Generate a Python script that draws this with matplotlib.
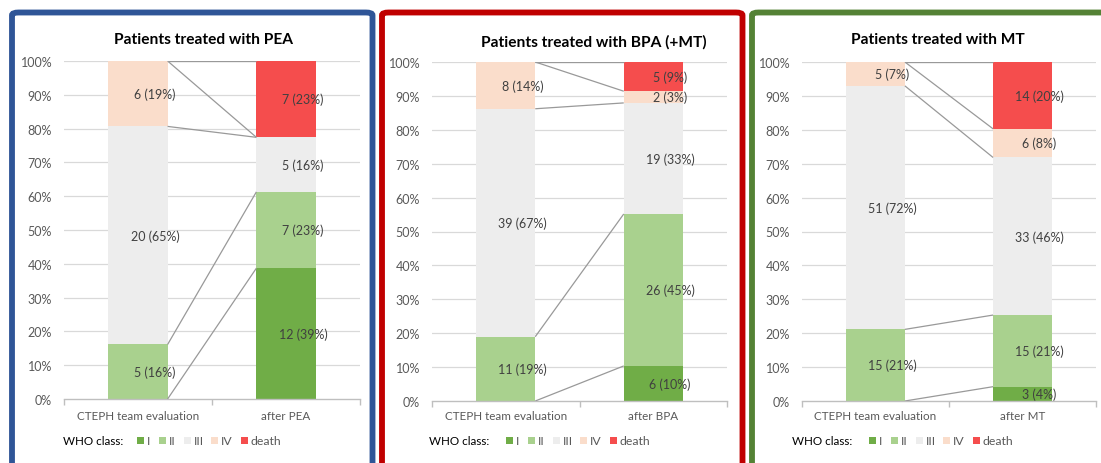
import matplotlib
matplotlib.use("Agg")
import matplotlib.pyplot as plt
from matplotlib.patches import FancyBboxPatch, Rectangle
from matplotlib.transforms import blended_transform_factory
import numpy as np

W, H = 1101, 464

classes = ["I", "II", "III", "IV", "death"]
colors = ["#70AD47", "#A9D18E", "#EDEDED", "#FADDCB", "#F54D4D"]

titles = ["Patients treated with PEA", "Patients treated with BPA (+MT)", "Patients treated with MT"]
categories = [["CTEPH team evaluation", "after PEA"],
              ["CTEPH team evaluation", "after BPA"],
              ["CTEPH team evaluation", "after MT"]]

# counts per class [I, II, III, IV, death]
pea_before = [0, 5, 20, 6, 0]
pea_after = [12, 7, 5, 0, 7]
bpa_before = [0, 11, 39, 8, 0]
bpa_after = [6, 26, 19, 2, 5]
mt_before = [0, 15, 51, 5, 0]
mt_after = [3, 15, 33, 6, 14]

# percentage labels as printed
pea_before_pct = [0, 16, 65, 19, 0]
pea_after_pct = [39, 23, 16, 0, 23]
bpa_before_pct = [0, 19, 67, 14, 0]
bpa_after_pct = [10, 45, 33, 3, 9]
mt_before_pct = [0, 21, 72, 7, 0]
mt_after_pct = [4, 21, 46, 8, 20]

panels = [
    (pea_before, pea_after, pea_before_pct, pea_after_pct),
    (bpa_before, bpa_after, bpa_before_pct, bpa_after_pct),
    (mt_before, mt_after, mt_before_pct, mt_after_pct),
]

# layout in pixels
axes_px = [(64, 360, 62, 400), (432, 727, 63, 402), (802, 1096, 63, 402)]
frame_px = [(9.5, 375, "#2F5597"), (379.5, 745, "#C00000"), (749.5, 1110, "#548235")]
title_px = [(203, 40), (594, 42), (938, 40)]
legend_px = [(63, 137), (429, 506), (792, 869)]

fig = plt.figure(figsize=(W / 100, H / 100), dpi=100)
fig.patch.set_facecolor("white")

def fx(x):
    return x / W

def fy(y):
    return 1 - y / H

# panel frames
for (x0, x1, col) in frame_px:
    r = FancyBboxPatch((fx(x0 + 2.5), fy(470)), fx(x1 - x0 - 5), fy(11 + 2.5) - fy(470),
                       boxstyle="round,pad=0,rounding_size=0.006",
                       transform=fig.transFigure, facecolor="white",
                       edgecolor=col, linewidth=4.2, zorder=0)
    fig.add_artist(r)

font = "Lato"
txtcol = "#404040"
bw = 0.4

for i, (before, after, bpct, apct) in enumerate(panels):
    l, r, t, b = axes_px[i]
    ax = fig.add_axes([fx(l), fy(b), fx(r - l), fy(t) - fy(b)])
    ax.set_facecolor("none")
    ax.set_xlim(-0.5, 1.5)
    ax.set_ylim(0, 1)
    for s in ["top", "right", "left"]:
        ax.spines[s].set_visible(False)
    ax.spines["bottom"].set_color("#BFBFBF")
    ax.spines["bottom"].set_linewidth(1.0)
    ax.set_yticks(np.arange(0, 1.01, 0.1))
    ax.set_yticklabels([f"{int(round(v*100))}%" for v in np.arange(0, 1.01, 0.1)],
                       fontsize=9, color="#595959", fontfamily=font)
    ax.tick_params(axis="y", length=0, pad=8.5)
    ax.set_xticks([-0.5, 0.5, 1.5])
    ax.set_xticklabels([])
    ax.tick_params(axis="x", length=4, color="#BFBFBF", width=1.0, direction="out")
    for v in np.arange(0.1, 1.01, 0.1):
        ax.axhline(v, color="#D9D9D9", lw=0.9, zorder=0)

    data = [before, after]
    pcts = [bpct, apct]
    tops = []
    for j in range(2):
        tot = sum(data[j])
        bottom = 0.0
        col_tops = []
        for k in range(5):
            h = data[j][k] / tot
            if h > 0:
                ax.bar(j, h, bottom=bottom, width=bw, color=colors[k], zorder=2, linewidth=0)
                ax.text(j + 0.115, bottom + h / 2, f"{data[j][k]} ({pcts[j][k]}%)",
                        ha="center", va="center", fontsize=9, color=txtcol,
                        fontfamily=font, zorder=4)
            bottom += h
            col_tops.append(bottom)
        tops.append(col_tops)
    for k in range(5):
        ax.plot([bw / 2, 1 - bw / 2], [tops[0][k], tops[1][k]], color="#999999",
                lw=0.9, zorder=3, solid_capstyle="butt")

    trans = blended_transform_factory(ax.transData, fig.transFigure)
    for j in range(2):
        ax.text(j, fy(417), categories[i][j], transform=trans, ha="center", va="center",
                fontsize=8.4, color="#595959", fontfamily=font)

    tx, ty = title_px[i]
    fig.text(fx(tx), fy(ty), titles[i], ha="center", va="center", fontsize=11.2,
             fontweight="bold", color="black", fontfamily=font)

    # legend
    lx, sx = legend_px[i]
    ly = 441.5
    fig.text(fx(lx), fy(ly), "WHO class:", ha="left", va="center", fontsize=8.4,
             color="black", fontfamily=font)
    offs = [0, 22, 47, 74, 104]
    for k in range(5):
        x0 = sx + offs[k]
        fig.add_artist(Rectangle((fx(x0), fy(ly + 3.5)), fx(7), fy(ly - 3.5) - fy(ly + 3.5),
                                 transform=fig.transFigure, facecolor=colors[k],
                                 edgecolor="none"))
        fig.text(fx(x0 + 9.5), fy(ly), classes[k], ha="left", va="center", fontsize=8.8,
                 color="#595959", fontfamily=font)

fig.savefig("out.png", dpi=100, facecolor="white")
